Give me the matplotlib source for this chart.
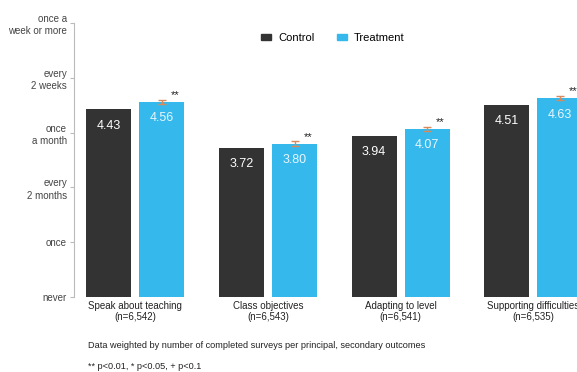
import numpy as np
import matplotlib
matplotlib.use('Agg')
import matplotlib.pyplot as plt
from matplotlib.patches import Patch

plt.rcParams['font.family'] = ['Liberation Sans', 'DejaVu Sans']

categories = ["Speak about teaching\n(n=6,542)", "Class objectives\n(n=6,543)",
              "Adapting to level\n(n=6,541)", "Supporting difficulties\n(n=6,535)"]
control = [4.43, 3.72, 3.94, 4.51]
treatment = [4.56, 3.80, 4.07, 4.63]
treat_err = [0.04, 0.04, 0.04, 0.04]
stars = ["**", "**", "**", "**"]
ytick_vals = [1, 2, 3, 4, 5, 6]
ytick_labels = ["never", "once", "every\n2 months", "once\na month",
                "every\n2 weeks", "once a\nweek or more"]

c_ctrl = "#333333"
c_treat = "#35b9ec"
grey = "#444444"

fig = plt.figure(figsize=(5.77, 3.72), dpi=100)
ax = fig.add_axes([0.128, 0.2016, 0.872, 0.7364])

x = np.arange(len(categories))
w = 0.34
off = 0.2
base = 1
ax.bar(x - off, np.array(control) - base, w, bottom=base, color=c_ctrl)
ax.bar(x + off, np.array(treatment) - base, w, bottom=base, color=c_treat)
ax.errorbar(x + off, treatment, yerr=treat_err, fmt='none', ecolor="#d98a5c",
            elinewidth=1, capsize=3, capthick=1)

for i in range(len(categories)):
    ax.text(x[i] - off, control[i] - 0.3, f"{control[i]:.2f}", ha='center', va='center',
            color='white', fontsize=9)
    ax.text(x[i] + off, treatment[i] - 0.3, f"{treatment[i]:.2f}", ha='center', va='center',
            color='#e8f6fd', fontsize=9)
    ax.text(x[i] + off + 0.1, treatment[i] + 0.03, stars[i], ha='center', va='bottom',
            color='#222222', fontsize=8)

ax.set_xlim(-0.464, 3.33)
ax.set_ylim(1, 6)
ax.set_yticks(ytick_vals)
ax.set_yticklabels(ytick_labels, fontsize=7, color=grey, linespacing=1.3)
ax.tick_params(axis='y', length=3, width=0.8, color="#bbbbbb", pad=2)
ax.set_xticks(x)
ax.set_xticklabels(categories, fontsize=7, color="#222222", linespacing=1.1)
ax.tick_params(axis='x', length=0, pad=3)

for s in ['top', 'right', 'bottom']:
    ax.spines[s].set_visible(False)
ax.spines['left'].set_color("#bbbbbb")
ax.spines['left'].set_linewidth(0.8)

handles = [Patch(color=c_ctrl, label="Control"), Patch(color=c_treat, label="Treatment")]
fig.legend(handles=handles, loc='center', bbox_to_anchor=(0.577, 0.898), ncol=2,
           frameon=False, fontsize=8, handlelength=0.9, handleheight=0.35,
           columnspacing=2.0, handletextpad=0.65)

fig.text(0.152, 0.072, "Data weighted by number of completed surveys per principal, secondary outcomes",
         fontsize=6.6, color="#222222", va='center')
fig.text(0.152, 0.014, "** p<0.01, * p<0.05, + p<0.1", fontsize=6.6, color="#222222", va='center')

fig.savefig("out.png", dpi=100)
